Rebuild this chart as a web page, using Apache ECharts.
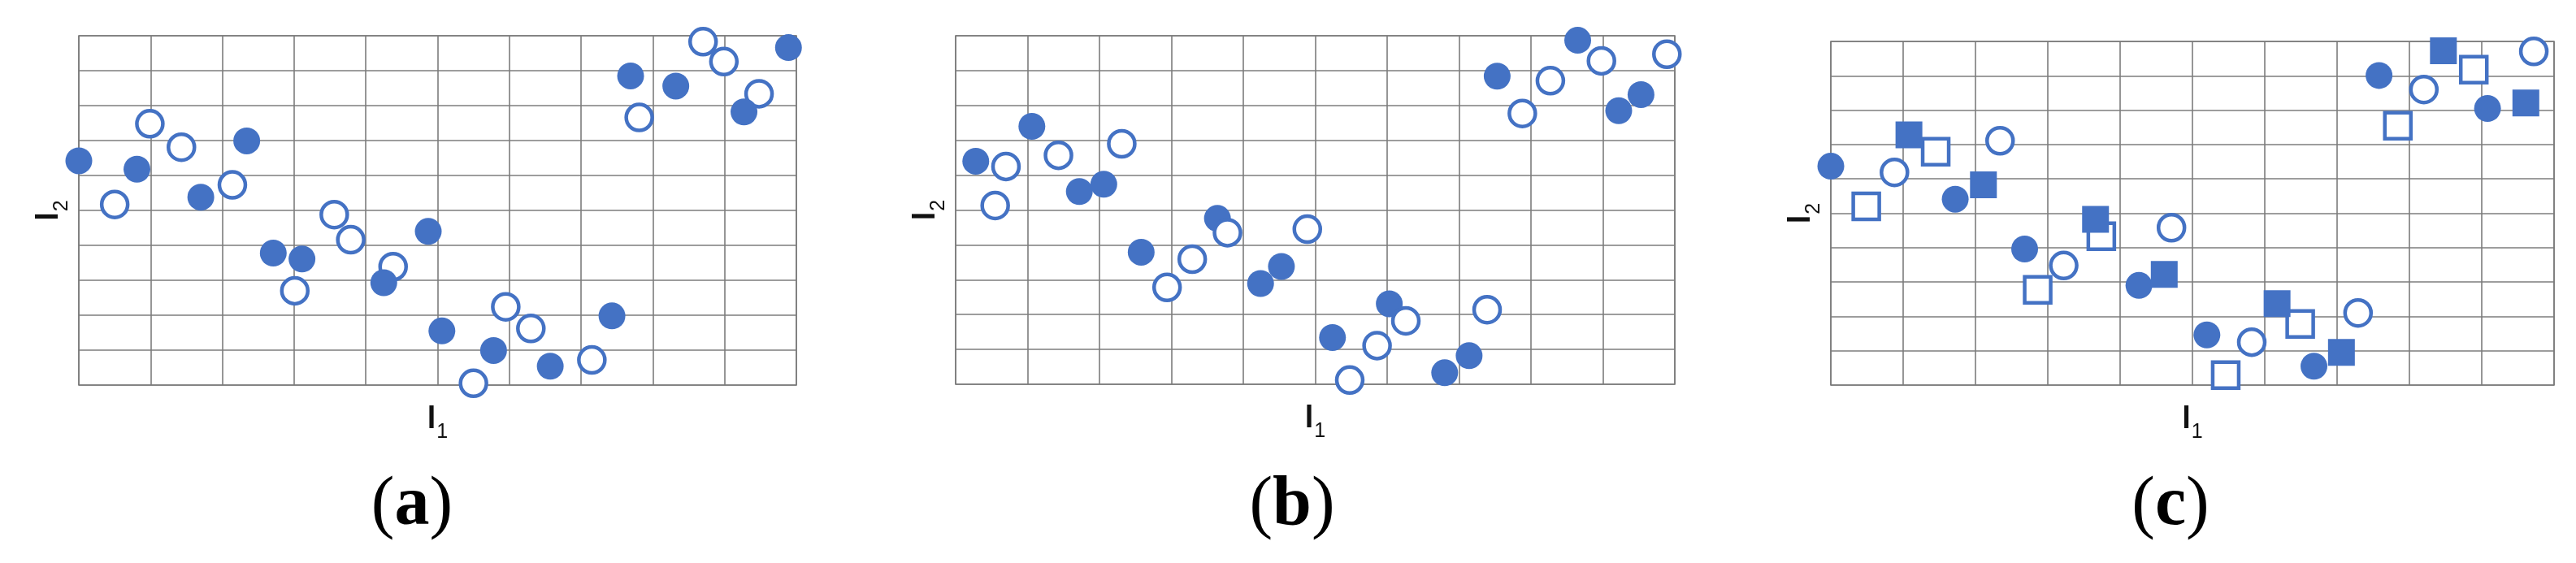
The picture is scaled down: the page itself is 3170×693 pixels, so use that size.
<!DOCTYPE html>
<html>
<head>
<meta charset="utf-8">
<title>l1 / l2 scatter panels</title>
<script src="https://cdn.jsdelivr.net/npm/echarts@6/dist/echarts.min.js"></script>
<style>
    html, body { margin: 0; padding: 0; background: #fff; }
    #main { width: 3170px; height: 693px; }
</style>
</head>
<body>
<div id="main"></div>
<script>
// grid is 10 x 10 cells, values are in cell units
var ticks = [0, 1, 2, 3, 4, 5, 6, 7, 8, 9, 10];
var panelLabels = ['a', 'b', 'c'];

// panel (a)
var aFilled = [[0.00, 6.42], [0.81, 6.18], [1.70, 5.38], [2.34, 6.99], [2.71, 3.78], [3.11, 3.61],
    [4.87, 4.40], [4.25, 2.93], [5.06, 1.55], [5.78, 0.99], [6.57, 0.54], [7.43, 1.98],
    [7.69, 8.85], [8.32, 8.56], [9.27, 7.82], [9.89, 9.66]];
var aHollow = [[0.50, 5.17], [0.99, 7.48], [1.43, 6.81], [2.14, 5.73], [3.56, 4.88], [3.79, 4.16],
    [3.01, 2.70], [4.38, 3.39], [5.95, 2.24], [6.30, 1.62], [5.50, 0.05], [7.15, 0.72],
    [7.81, 7.66], [8.70, 9.83], [8.99, 9.26], [9.48, 8.34]];

// panel (b)
var bFilled = [[0.28, 6.40], [1.06, 7.40], [1.72, 5.53], [2.06, 5.74], [2.58, 3.79], [3.64, 4.76],
    [4.24, 2.89], [4.53, 3.38], [5.24, 1.34], [6.03, 2.31], [6.80, 0.33], [7.14, 0.82],
    [7.53, 8.84], [8.65, 9.87], [9.22, 7.85], [9.53, 8.31]];
var bHollow = [[0.70, 6.25], [0.55, 5.13], [1.43, 6.57], [2.31, 6.90], [2.94, 2.78], [3.29, 3.59],
    [3.78, 4.35], [4.89, 4.45], [5.48, 0.12], [5.86, 1.11], [6.26, 1.82], [7.39, 2.14],
    [7.88, 7.77], [8.27, 8.71], [8.98, 9.28], [9.89, 9.47]];

// panel (c)
var cFilledCircle = [[0.00, 6.37], [1.72, 5.41], [2.68, 3.96], [4.26, 2.90], [5.20, 1.46], [6.68, 0.55],
    [7.58, 9.01], [9.08, 8.05]];
var cHollowCircle = [[0.88, 6.19], [2.34, 7.11], [3.22, 3.48], [4.71, 4.58], [5.82, 1.25], [7.29, 2.10],
    [8.20, 8.60], [9.72, 9.71]];
var cFilledSquare = [[1.08, 7.28], [2.11, 5.83], [3.66, 4.82], [4.61, 3.22], [6.17, 2.37], [7.06, 0.95],
    [8.47, 9.73], [9.61, 8.21]];
var cHollowSquare = [[0.49, 5.20], [1.45, 6.79], [2.86, 2.77], [3.74, 4.33], [5.46, 0.29], [6.49, 1.78],
    [7.84, 7.55], [8.89, 9.18]];

(function () {
    var myChart = echarts.init(document.getElementById('main'), null, { renderer: 'canvas' });
    var blue = '#4472c4';
    var gridColor = '#7c7c7c';

    // plot area of each panel, in px
    var grids = [
        { left: 97, top: 44, width: 883, height: 430 },
        { left: 1176, top: 44, width: 885, height: 429 },
        { left: 2253, top: 51, width: 890, height: 423 }
    ];
    // centre of the (a)/(b)/(c) captions
    var captionX = [507, 1590, 2671];

    // l with a subscript, drawn with rich text
    var nameRich = {
        l: { fontFamily: 'Liberation Sans', fontWeight: 'bold', fontSize: 38, lineHeight: 40,
             verticalAlign: 'top', color: '#111' },
        s: { fontFamily: 'Liberation Sans', fontSize: 25, lineHeight: 24, padding: [22, 0, 0, 1],
             verticalAlign: 'top', color: '#111' }
    };

    function axis(type, idx) {
        return {
            type: 'value',
            gridIndex: idx,
            min: ticks[0],
            max: ticks[ticks.length - 1],
            interval: 1,
            name: type === 'x' ? '{l|l}{s|1}' : '{l|l}{s|2}',
            nameLocation: 'middle',
            nameGap: type === 'x' ? 24 : 15,
            nameRotate: type === 'x' ? 0 : 90,
            nameTextStyle: { rich: nameRich },
            axisLine: { show: false },
            axisTick: { show: false },
            axisLabel: { show: false },
            splitLine: { show: true, lineStyle: { color: gridColor, width: 1.6 } }
        };
    }

    function dots(idx, data, symbol, filled, size) {
        return {
            type: 'scatter',
            xAxisIndex: idx,
            yAxisIndex: idx,
            data: data,
            symbol: symbol,
            symbolSize: filled ? size : size - 1,
            clip: false,
            silent: true,
            itemStyle: filled
                ? { color: blue, opacity: 1 }
                : { color: '#fff', borderColor: blue, borderWidth: 4.5, opacity: 1 }
        };
    }

    var option = {
        animation: false,
        backgroundColor: '#fff',
        grid: grids.map(function (g) {
            return { left: g.left, top: g.top, width: g.width, height: g.height,
                show: true, borderColor: gridColor, borderWidth: 1.6, backgroundColor: 'transparent' };
        }),
        xAxis: [axis('x', 0), axis('x', 1), axis('x', 2)],
        yAxis: [axis('y', 0), axis('y', 1), axis('y', 2)],
        series: [
            dots(0, aHollow, 'circle', false, 33),
            dots(0, aFilled, 'circle', true, 33),
            dots(1, bFilled, 'circle', true, 33),
            dots(1, bHollow, 'circle', false, 33),
            dots(2, cHollowSquare, 'rect', false, 33),
            dots(2, cFilledCircle, 'circle', true, 33),
            dots(2, cHollowCircle, 'circle', false, 33),
            dots(2, cFilledSquare, 'rect', true, 33)
        ],
        // panel captions
        graphic: panelLabels.map(function (t, i) {
            return {
                type: 'text',
                x: captionX[i],
                y: 580,
                silent: true,
                style: {
                    text: '{p|(}{b|' + t + '}{p|)}',
                    align: 'center',
                    verticalAlign: 'top',
                    rich: {
                        p: { fontFamily: 'Liberation Serif', fontSize: 86, lineHeight: 86, color: '#000' },
                        b: { fontFamily: 'Liberation Serif', fontWeight: 'bold', fontSize: 86, lineHeight: 86, color: '#000' }
                    }
                }
            };
        })
    };

    myChart.setOption(option);
})();
</script>
</body>
</html>
